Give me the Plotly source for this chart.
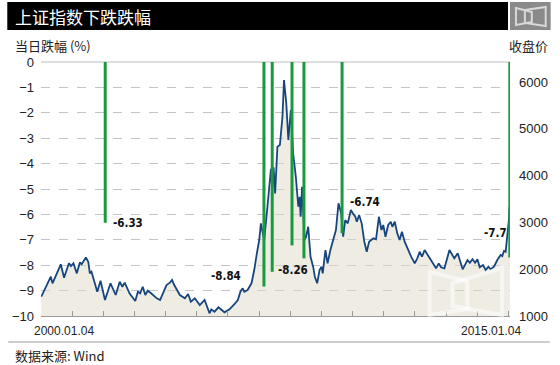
import plotly.graph_objects as go

# ---- data ----
dates = [
    "2000-01-04","2000-02-20","2000-04-25","2000-05-15","2000-08-20","2000-09-27","2000-11-24","2000-12-17",
    "2001-01-15","2001-02-24","2001-04-02","2001-04-22","2001-06-10","2001-07-08","2001-07-27","2001-08-15",
    "2001-10-22","2001-11-29","2002-01-20","2002-03-26","2002-05-26","2002-07-12","2002-08-12","2002-09-08",
    "2002-11-04","2003-01-10","2003-02-10","2003-03-08","2003-04-08","2003-05-08","2003-06-05","2003-07-15",
    "2003-09-20","2003-10-28","2003-12-06","2004-01-12","2004-02-20","2004-03-17","2004-04-11","2004-06-16",
    "2004-08-14","2004-09-21","2004-10-23","2004-12-08","2005-02-05","2005-04-02","2005-05-30","2005-06-20",
    "2005-07-27","2005-09-12","2005-11-21","2006-01-19","2006-03-18","2006-04-27","2006-05-27","2006-06-22",
    "2006-07-12","2006-08-19","2006-10-04","2006-11-05","2006-12-06","2007-01-03","2007-01-22","2007-03-02",
    "2007-04-09","2007-05-20","2007-06-04","2007-06-20","2007-07-08","2007-08-04","2007-09-02","2007-10-02",
    "2007-10-20","2007-11-16","2007-12-10","2008-01-08","2008-02-04","2008-03-07","2008-04-05","2008-04-21",
    "2008-05-02","2008-05-19","2008-06-17","2008-07-05","2008-07-30","2008-08-26","2008-09-26","2008-10-16",
    "2008-11-12","2008-12-10","2009-01-02","2009-01-16","2009-02-17","2009-03-14","2009-04-16","2009-05-23",
    "2009-06-20","2009-07-20","2009-08-21","2009-09-13","2009-10-07","2009-11-06","2009-12-12","2010-01-04",
    "2010-02-02","2010-02-20","2010-03-19","2010-04-18","2010-05-19","2010-06-16","2010-07-14","2010-08-08",
    "2010-09-03","2010-10-03","2010-11-06","2010-12-06","2010-12-27","2011-01-22","2011-02-23","2011-03-25",
    "2011-04-13","2011-05-11","2011-06-09","2011-07-07","2011-08-03","2011-09-04","2011-10-12","2011-11-19",
    "2011-12-31","2012-01-30","2012-02-27","2012-03-25","2012-04-25","2012-06-02","2012-07-13","2012-09-06",
    "2012-10-07","2012-11-03","2012-12-13","2013-02-10","2013-04-08","2013-05-18","2013-07-15","2013-08-15",
    "2013-09-10","2013-10-07","2013-11-07","2013-12-08","2014-01-04","2014-01-31","2014-03-11","2014-04-11",
    "2014-05-12","2014-06-08","2014-07-17","2014-08-25","2014-10-03","2014-10-23","2014-11-12","2014-12-01",
    "2014-12-20","2015-01-08","2015-01-16","2015-01-19",
]
close = [
    1412,1592,1840,1699,2105,1818,2126,2068,
    2126,1912,2148,2105,2254,2160,1912,1947,
    1519,1754,1342,1699,1449,1733,1626,1712,
    1485,1321,1519,1485,1626,1449,1541,1485,
    1378,1342,1519,1662,1712,1769,1662,1449,
    1378,1470,1306,1378,1235,1342,1058,1143,
    1092,1186,1079,1143,1256,1342,1519,1592,
    1519,1556,1699,1983,2340,2624,2981,2624,
    3336,4148,3693,4180,3622,4618,4654,5259,
    6043,5545,4761,5402,4477,3977,3336,3549,
    3122,3763,2624,2695,2908,2267,2054,1840,
    1699,1983,2054,1912,2410,2126,2410,2624,
    2838,3408,3195,2695,3052,2981,3265,3195,
    3122,3015,3158,2981,2588,2374,2588,2624,
    2660,2639,3122,2838,2945,2695,2945,3015,
    2908,3015,2767,2624,2802,2588,2410,2267,
    2126,2233,2374,2267,2410,2304,2197,2019,
    2126,2041,2019,2410,2233,2340,1998,2090,
    2197,2139,2212,2139,2212,2041,2090,1983,
    2054,1998,2054,2197,2304,2282,2395,2374,
    2660,3052,3336,3160,
]

drop_dates = ["2002-01-23","2007-02-27","2007-06-04","2008-01-22","2008-06-10","2009-08-31","2015-01-19"]
drop_pct = [-6.33, -8.84, -8.26, -7.22, -7.73, -6.74, -7.70]
drop_labels = ["-6.33", "-8.84", "-8.26", "", "", "-6.74", "-7.7"]
label_dates = ["2002-04-05", "2006-07-01", "2007-07-18", None, None, "2009-11-13", "2014-02-21"]
label_y = [-6.34, -8.43, -8.19, None, None, -5.5, -6.73]
label_anchor = ["left", "right", "left", None, None, "left", "left"]

left_ticks = [0, -1, -2, -3, -4, -5, -6, -7, -8, -9, -10]
right_ticks = [1000, 2000, 3000, 4000, 5000, 6000]
year_ticks = [f"{y}-01-01" for y in range(2000, 2016)]

FONT = "Liberation Sans, Arial, sans-serif"
CJK = "Noto Sans CJK SC, sans-serif"
GREEN = "#1a9a3e"
BLUE = "#17467f"

fig = go.Figure()

# price line with fill (base axis y, shown on the right)
fig.add_trace(go.Scatter(
    x=dates, y=close, yaxis="y", mode="lines",
    line=dict(color=BLUE, width=1.8),
    fill="tozeroy", fillcolor="rgba(222,218,200,0.5)",
    hoverinfo="skip", showlegend=False,
))

# green drop bars (overlay axis y2, shown on the left) - drawn above the price
for d, v in zip(drop_dates, drop_pct):
    fig.add_trace(go.Scatter(
        x=[d, d], y=[0, v], yaxis="y2", mode="lines",
        line=dict(color=GREEN, width=3),
        hoverinfo="skip", showlegend=False,
    ))

annotations = []
for lab, d, yv, anc in zip(drop_labels, label_dates, label_y, label_anchor):
    if not lab:
        continue
    annotations.append(dict(
        x=d, y=yv, xref="x", yref="y2", text=f"<b>{lab}</b>", showarrow=False,
        xanchor=anc, yanchor="middle",
        font=dict(family="Liberation Sans Narrow, DejaVu Sans Condensed, Arial Narrow, Liberation Sans, sans-serif",
                  size=11.5, color="#111"),
    ))

# title and texts (pixel positions converted below)
annotations += [
    dict(x=12, y=365 - 16, text="上证指数下跌跌幅", showarrow=False,
         xanchor="left", yanchor="middle", font=dict(family=CJK, size=17, color="white")),
    dict(x=12, y=365 - 46, text="当日跌幅 (%)", showarrow=False, xanchor="left", yanchor="middle",
         font=dict(family=CJK, size=13, color="#222")),
    dict(x=553, y=365 - 46, text="收盘价", showarrow=False, xanchor="right", yanchor="middle",
         font=dict(family=CJK, size=13, color="#222")),
    dict(x=63, y=365 - 331, text="2000.01.04", showarrow=False, xanchor="center", yanchor="middle",
         font=dict(family=FONT, size=12, color="#222")),
    dict(x=494, y=365 - 331, text="2015.01.04", showarrow=False, xanchor="center", yanchor="middle",
         font=dict(family=FONT, size=12, color="#222")),
    dict(x=12, y=365 - 355, text="数据来源: Wind", showarrow=False, xanchor="left", yanchor="middle",
         font=dict(family=CJK, size=13, color="#222")),
]
W, H = 560, 365
ML, MR, MT, MB = 40, 47, 62, 49
pw, ph = W - ML - MR, H - MT - MB
for a in annotations:
    if a.get("xref") == "x":
        continue
    a["xref"] = "paper"
    a["yref"] = "paper"
    a["x"] = (a["x"] - ML) / pw
    a["y"] = (a["y"] - MB) / ph

def px(xp):
    return (xp - ML) / pw

def py(yp):  # yp measured from top
    return (H - yp - MB) / ph

WM = "rgba(255,255,255,0.55)"
shapes = [
    dict(type="rect", xref="paper", yref="paper", x0=px(6), x1=px(511), y0=py(30), y1=py(2),
         fillcolor="black", line=dict(width=0), layer="below"),
    dict(type="rect", xref="paper", yref="paper", x0=px(513), x1=px(554), y0=py(30), y1=py(2),
         fillcolor="#8a8a8a", line=dict(width=0), layer="below"),
    dict(type="path", xref="paper", yref="paper",
         path=f"M {px(519)} {py(8)} L {px(535)} {py(12)} L {px(535)} {py(22)} L {px(519)} {py(25)} Z",
         fillcolor="rgba(0,0,0,0)", line=dict(color="#d8d8d8", width=2)),
    dict(type="path", xref="paper", yref="paper",
         path=f"M {px(528)} {py(10)} L {px(549)} {py(7)} L {px(549)} {py(26)} L {px(528)} {py(23)} Z",
         fillcolor="rgba(0,0,0,0)", line=dict(color="#d8d8d8", width=2)),
    # faint watermark in lower right of plot
    dict(type="path", xref="paper", yref="paper",
         path=f"M {px(432)} {py(272)} L {px(470)} {py(281)} L {px(470)} {py(309)} L {px(432)} {py(315)} Z",
         fillcolor="rgba(0,0,0,0)", line=dict(color=WM, width=4)),
    dict(type="path", xref="paper", yref="paper",
         path=f"M {px(455)} {py(283)} L {px(505)} {py(268)} L {px(505)} {py(315)} L {px(455)} {py(306)} Z",
         fillcolor="rgba(0,0,0,0)", line=dict(color=WM, width=4)),
    dict(type="line", xref="paper", yref="paper", x0=0, x1=1, y0=1, y1=1,
         line=dict(color="#bdbdbd", width=1), layer="below"),
    dict(type="line", xref="paper", yref="paper", x0=px(7), x1=px(553), y0=py(342), y1=py(342),
         line=dict(color="#9a9a9a", width=1)),
]

fig.update_layout(
    width=W, height=H,
    margin=dict(l=ML, r=MR, t=MT, b=MB),
    paper_bgcolor="white", plot_bgcolor="white",
    showlegend=False,
    xaxis=dict(
        type="date", range=["2000-01-01", "2015-01-21"],
        tickvals=year_ticks, ticktext=[""] * len(year_ticks),
        ticks="inside", ticklen=5, tickcolor="#999", showgrid=False,
        showline=True, linecolor="#999", linewidth=1, zeroline=False,
    ),
    yaxis=dict(
        range=[1000, 6430], side="right", tickvals=right_ticks,
        showgrid=False, zeroline=False, showline=False, ticks="", ticklabelstandoff=8,
        tickfont=dict(family=FONT, size=13, color="#222"),
    ),
    yaxis2=dict(
        range=[-10, 0], overlaying="y", side="left", tickvals=left_ticks,
        ticktext=[("\u2212" + str(-t)) if t < 0 else str(t) for t in left_ticks],
        showgrid=True, gridcolor="#c4c4c4", griddash="dash", gridwidth=1,
        zeroline=False, showline=False, ticks="", ticklabelstandoff=6,
        tickfont=dict(family=FONT, size=13, color="#222"),
    ),
    annotations=annotations,
    shapes=shapes,
)

fig.write_html("out.html", config={"displayModeBar": False},
               post_script="document.body.style.margin='0';document.body.style.overflow='hidden';")
